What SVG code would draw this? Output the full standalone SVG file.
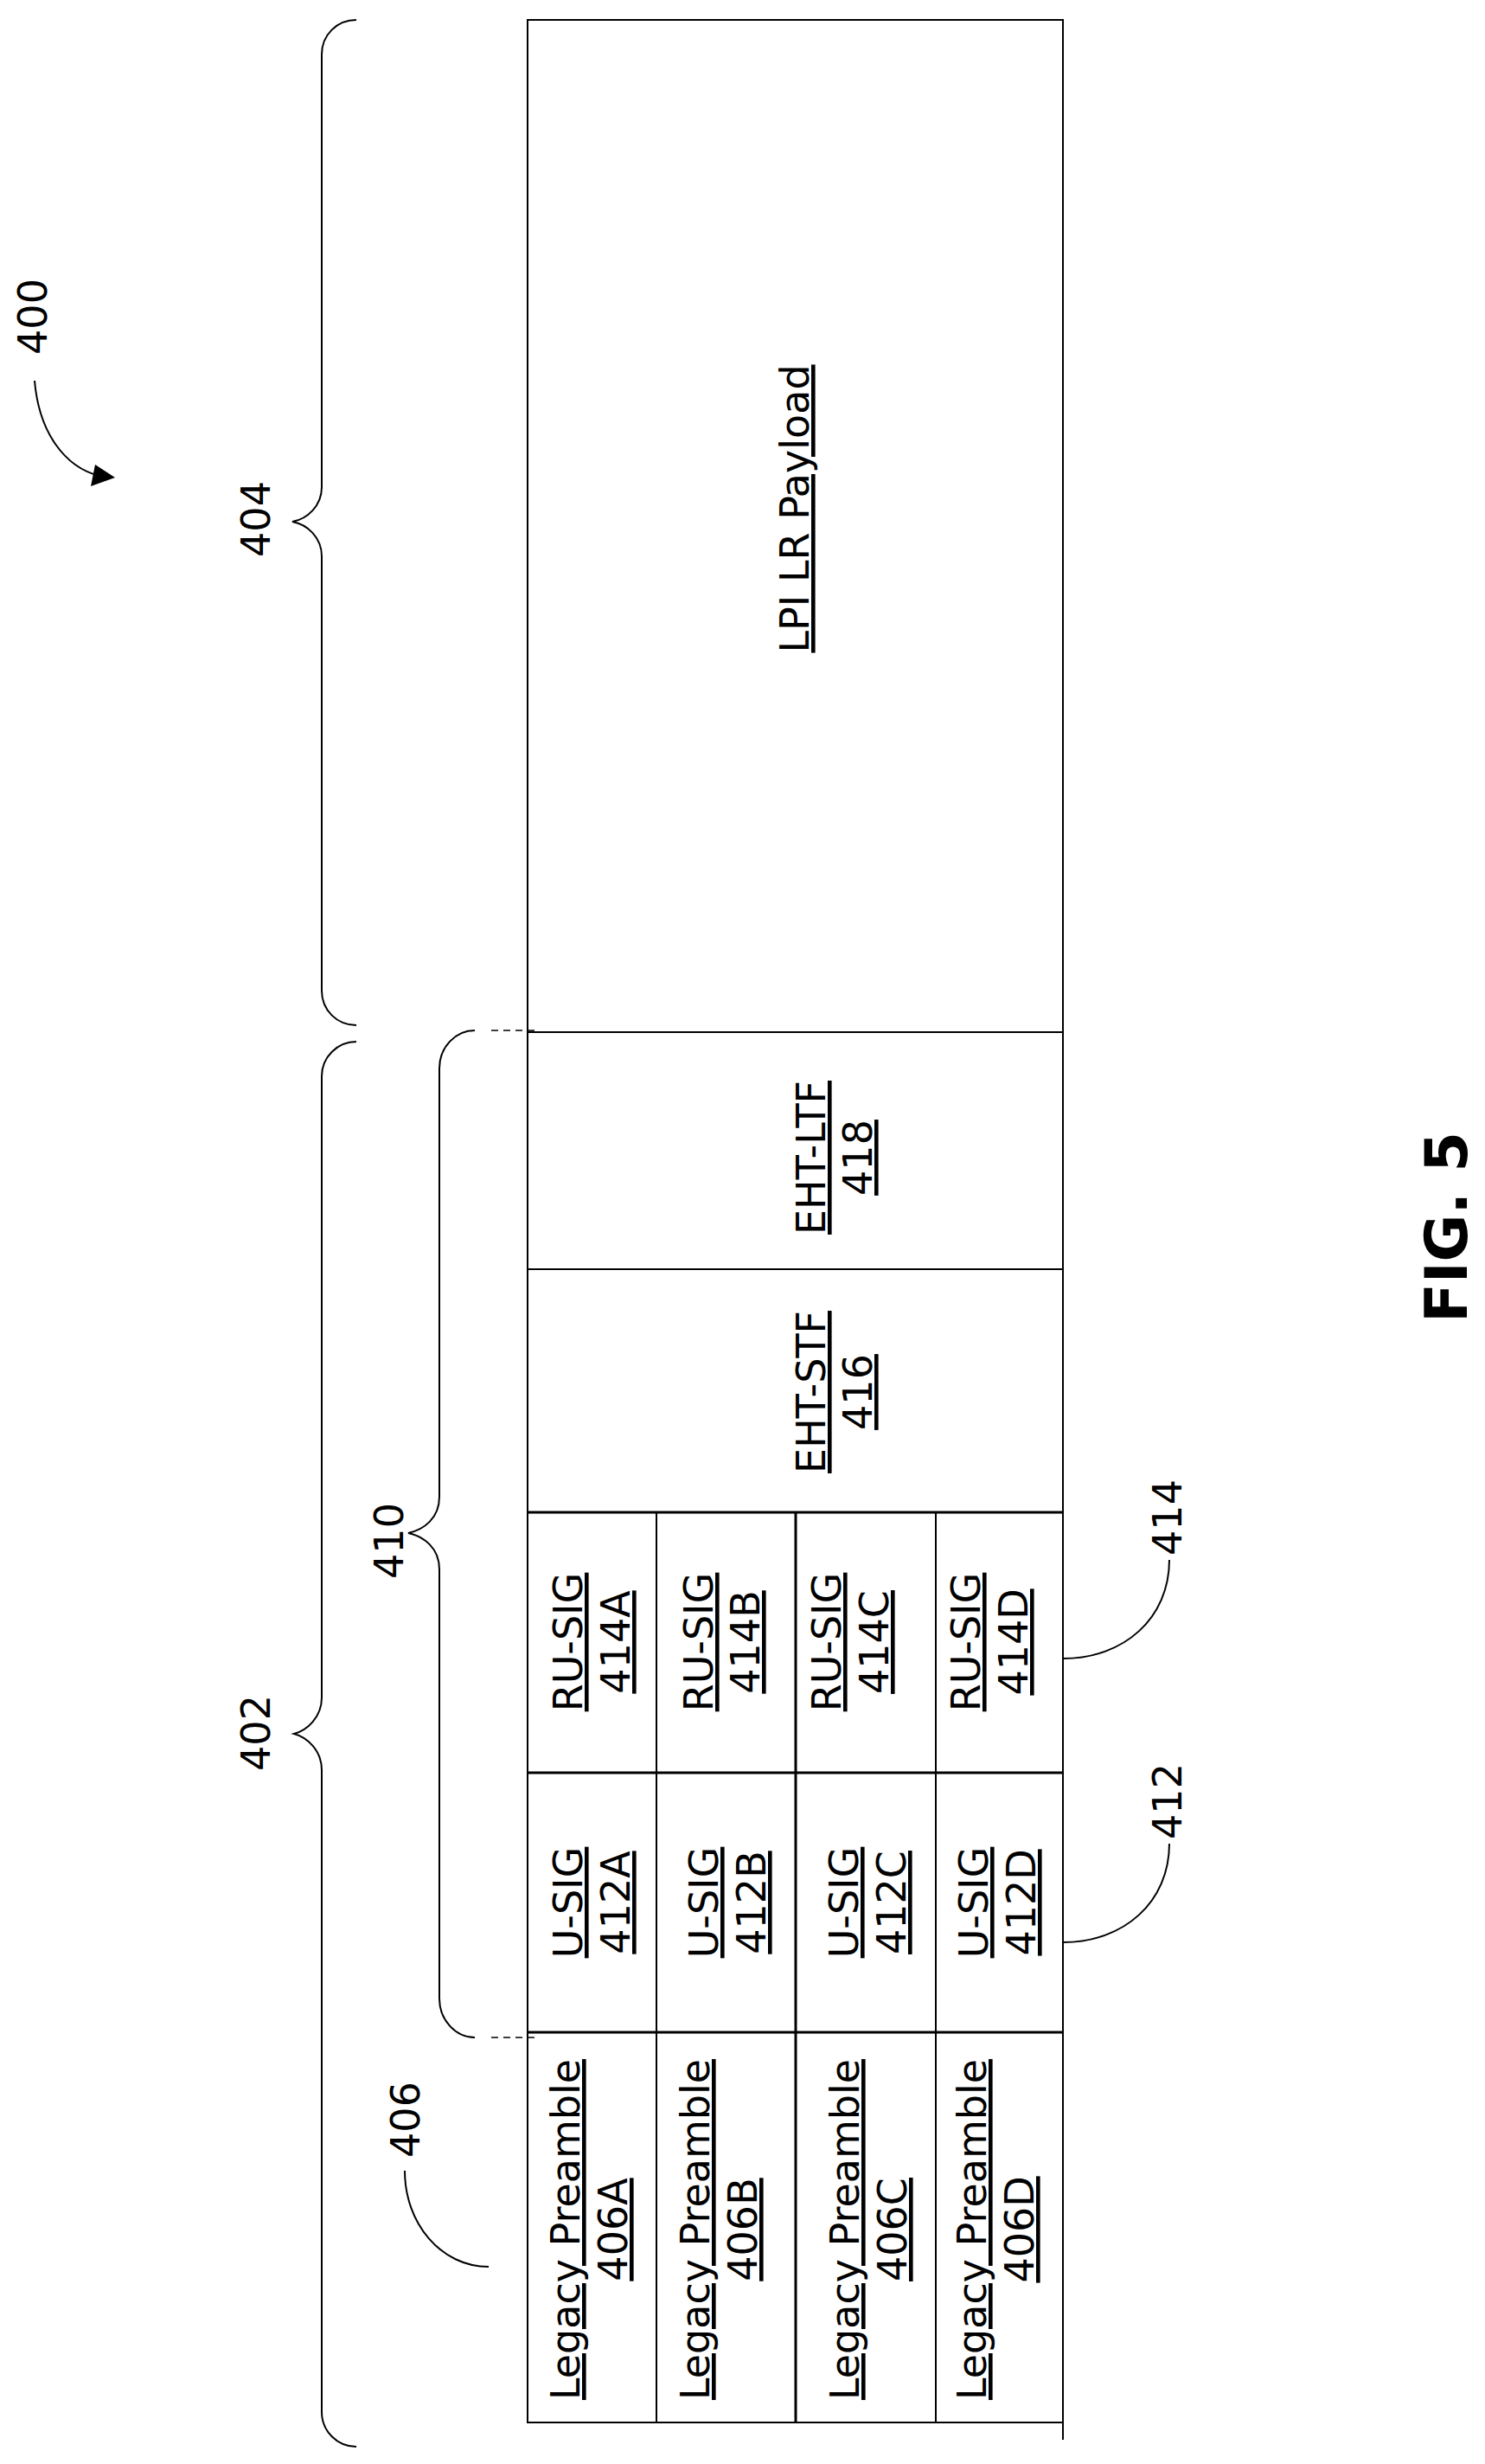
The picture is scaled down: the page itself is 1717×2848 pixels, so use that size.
<svg xmlns="http://www.w3.org/2000/svg" width="1717" height="2848" viewBox="0 0 1717 2848">
<style>
.ln{fill:none;stroke:#000;stroke-width:2}
.t{font-family:"DejaVu Sans",Verdana,sans-serif;font-size:46px;fill:#000}
.u{text-decoration:underline}
.m{text-anchor:middle}
</style>
<rect width="1717" height="2848" fill="#fff"/>
<g id="table" class="ln">
<rect x="610" y="23" width="619" height="2777"/>
<line x1="610" y1="1193" x2="1229" y2="1193"/>
<line x1="610" y1="1467" x2="1229" y2="1467"/>
<line x1="610" y1="1748" x2="1229" y2="1748" stroke-width="3"/>
<line x1="610" y1="2049" x2="1229" y2="2049" stroke-width="3"/>
<line x1="610" y1="2349" x2="1229" y2="2349" stroke-width="3"/>
<line x1="759" y1="1748" x2="759" y2="2800"/>
<line x1="920" y1="1748" x2="920" y2="2800" stroke-width="3"/>
<line x1="1082" y1="1748" x2="1082" y2="2800"/>
<line x1="1229" y1="2800" x2="1229" y2="2820"/>
</g>
<g id="payload"><text class="t u m" transform="translate(935,588) rotate(-90)">LPI LR Payload</text></g>
<g id="ltf"><text class="t u m" transform="translate(954,1338) rotate(-90)">EHT-LTF</text><text class="t u m" transform="translate(1008,1338) rotate(-90)">418</text></g>
<g id="stf"><text class="t u m" transform="translate(954,1609) rotate(-90)">EHT-STF</text><text class="t u m" transform="translate(1008,1609) rotate(-90)">416</text></g>
<g id="ru414A"><text class="t u m" transform="translate(673,1898) rotate(-90)">RU-SIG</text><text class="t u m" transform="translate(728,1898) rotate(-90)">414A</text></g>
<g id="ru414B"><text class="t u m" transform="translate(824,1898) rotate(-90)">RU-SIG</text><text class="t u m" transform="translate(878,1898) rotate(-90)">414B</text></g>
<g id="ru414C"><text class="t u m" transform="translate(972,1898) rotate(-90)">RU-SIG</text><text class="t u m" transform="translate(1027,1898) rotate(-90)">414C</text></g>
<g id="ru414D"><text class="t u m" transform="translate(1133,1898) rotate(-90)">RU-SIG</text><text class="t u m" transform="translate(1188,1898) rotate(-90)">414D</text></g>
<g id="u412A"><text class="t u m" transform="translate(673,2199) rotate(-90)">U-SIG</text><text class="t u m" transform="translate(728,2199) rotate(-90)">412A</text></g>
<g id="u412B"><text class="t u m" transform="translate(830,2199) rotate(-90)">U-SIG</text><text class="t u m" transform="translate(885,2199) rotate(-90)">412B</text></g>
<g id="u412C"><text class="t u m" transform="translate(992,2199) rotate(-90)">U-SIG</text><text class="t u m" transform="translate(1047,2199) rotate(-90)">412C</text></g>
<g id="u412D"><text class="t u m" transform="translate(1142,2199) rotate(-90)">U-SIG</text><text class="t u m" transform="translate(1197,2199) rotate(-90)">412D</text></g>
<g id="l406A"><text class="t u m" transform="translate(670,2577) rotate(-90)">Legacy Preamble</text><text class="t u m" transform="translate(725,2577) rotate(-90)">406A</text></g>
<g id="l406B"><text class="t u m" transform="translate(820,2577) rotate(-90)">Legacy Preamble</text><text class="t u m" transform="translate(875,2577) rotate(-90)">406B</text></g>
<g id="l406C"><text class="t u m" transform="translate(993,2577) rotate(-90)">Legacy Preamble</text><text class="t u m" transform="translate(1048,2577) rotate(-90)">406C</text></g>
<g id="l406D"><text class="t u m" transform="translate(1140,2577) rotate(-90)">Legacy Preamble</text><text class="t u m" transform="translate(1195,2577) rotate(-90)">406D</text></g>
<g id="connectors" class="ln">
<path d="M412,23 C390,23 372,40 372,63 L372,563 C372,585 355,600 338,603 C355,606 372,621 372,643 L372,1145 C372,1168 390,1185 412,1185"/>
<path d="M412,1204 C390,1204 372,1222 372,1244 L372,1962 C372,1985 355,2000 340,2004 C355,2008 372,2023 372,2046 L372,2788 C372,2810 390,2828 412,2828"/>
<path d="M549,1191 C527,1191 508,1210 508,1235 L508,1730 C508,1755 490,1768 472,1772 C490,1776 508,1789 508,1814 L508,2310 C508,2335 527,2355 549,2355"/>
<path d="M568,1191 L619,1191 M568,2355 L619,2355" stroke-dasharray="8 6" stroke-width="1.5"/>
<path d="M468,2509 C468,2570 510,2620 565,2620"/>
<path d="M1229,1917 C1300,1917 1352,1870 1352,1803"/>
<path d="M1229,2245 C1300,2245 1352,2198 1352,2131"/>
<path d="M40,440 C45,500 75,540 115,550"/>
<polygon points="133,552 105,562 110,537" fill="#000" stroke="none"/>
</g>
<g id="labels">
<text class="t m" transform="translate(54,366) rotate(-90)">400</text>
<text class="t m" transform="translate(312,600) rotate(-90)">404</text>
<text class="t m" transform="translate(312,2003) rotate(-90)">402</text>
<text class="t m" transform="translate(466,1781) rotate(-90)">410</text>
<text class="t m" transform="translate(485,2450) rotate(-90)">406</text>
<text class="t m" transform="translate(1366,1754) rotate(-90)">414</text>
<text class="t m" transform="translate(1366,2082) rotate(-90)">412</text>
<text class="t" style="font-weight:bold;font-size:67px;text-anchor:end" transform="translate(1696,1308) rotate(-90)">FIG. 5</text>
</g>
</svg>
